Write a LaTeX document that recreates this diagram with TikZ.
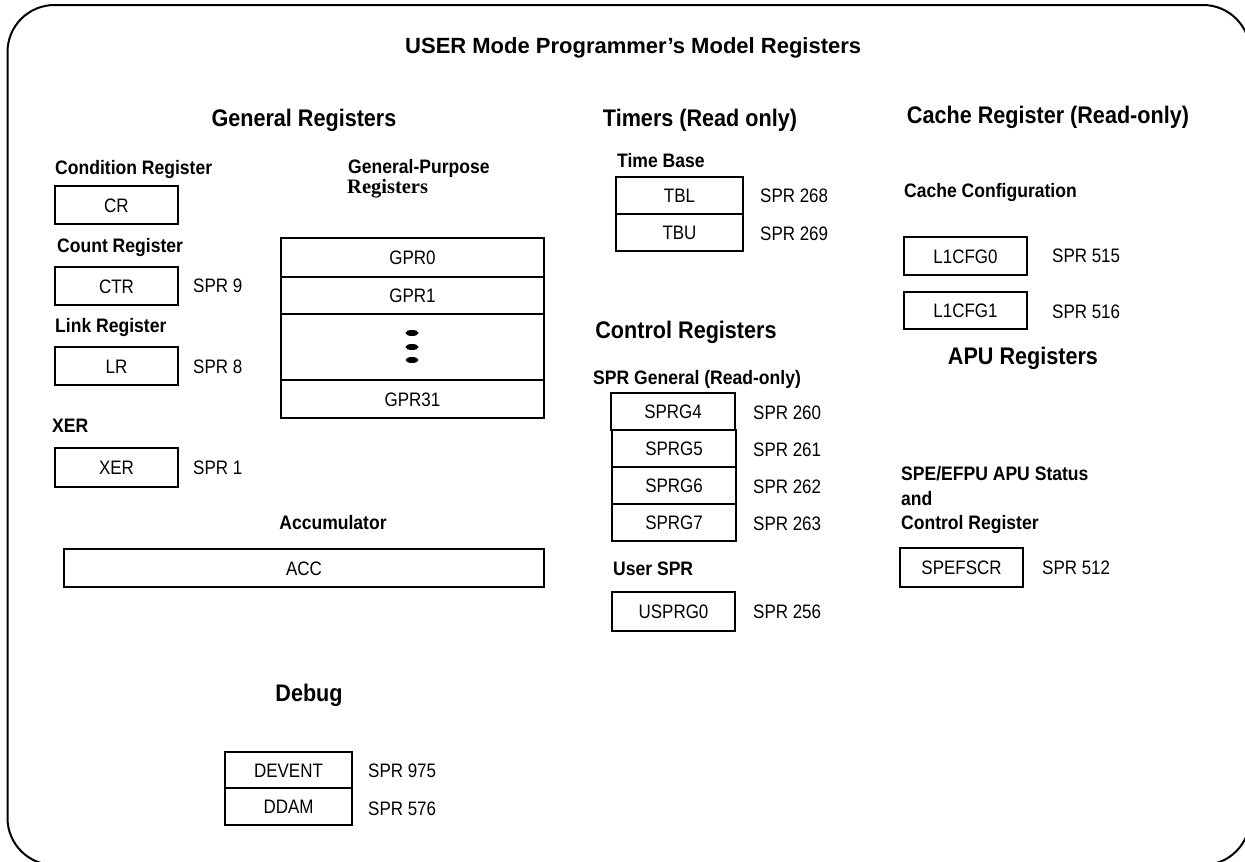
\documentclass[tikz,border=0pt]{standalone}
\usepackage{fontspec}
\setmainfont{Liberation Sans}
\newfontfamily\nar[FakeStretch=0.9]{Liberation Sans}
\newfontfamily\narr[FakeStretch=0.87]{Liberation Sans}
\newfontfamily\ser{Liberation Serif}
\newcommand\RegBox[6]{\node[reg, anchor=north west, minimum width={(#4-#2)*1pt}, minimum height={(#5-#3)*1pt}] (#1) at (#2,#3) {#6};}
\begin{document}
\begin{tikzpicture}[x=1pt,y=-1pt,
 lbl/.style={font=\nar\bfseries\fontsize{19.5}{22}\selectfont, inner sep=0pt, text height=14pt, text depth=0pt, anchor=west},
 hd/.style={font=\nar\bfseries\fontsize{24}{28}\selectfont, inner sep=0pt, text height=17pt, text depth=0pt},
 spr/.style={font=\narr\fontsize{19.5}{22}\selectfont, inner sep=0pt, text height=14pt, text depth=0pt, anchor=west},
 reg/.style={draw, line width=1.3pt, font=\narr\fontsize{19.5}{22}\selectfont, text height=14pt, text depth=0pt, inner sep=0pt, outer sep=0pt}
]
\useasboundingbox (0,0) rectangle (1245,862);
\clip (0,0) rectangle (1245,862);
\draw[line width=2pt, rounded corners=47pt] (7.5,5) rectangle (1250,865);

% title and headings
\node[font=\bfseries\fontsize{22}{26}\selectfont, inner sep=0pt, text height=15.7pt, text depth=0pt, anchor=west] (title) at (405,46) {USER Mode Programmer’s Model Registers};
\node[hd] (hgen) at (304,118) {General Registers};
\node[hd] (htim) at (700,118) {Timers (Read only)};
\node[hd] (hcache) at (1048,115) {Cache Register (Read-only)};
\node[hd] (hctl) at (686,330) {Control Registers};
\node[hd] (hapu) at (1023,356) {APU Registers};
\node[hd] (hdbg) at (309,693) {Debug};

% left column
\node[lbl] (lcr) at (55,167) {Condition Register};
\RegBox{cr}{55}{186}{178}{224}{CR}
\node[lbl] (lctr) at (57,245) {Count Register};
\RegBox{ctr}{55}{267}{178}{305}{CTR}
\node[spr] (sctr) at (193,285) {SPR 9};
\node[lbl] (llr) at (55,325) {Link Register};
\RegBox{lr}{55}{347}{178}{385}{LR}
\node[spr] (slr) at (193,366) {SPR 8};
\node[lbl] (lxer) at (52,425) {XER};
\RegBox{xer}{55}{448}{178}{487}{XER}
\node[spr] (sxer) at (193,467) {SPR 1};

% GPRs
\node[lbl] (lgpr) at (348,166) {General-Purpose};
\node[font=\ser\bfseries\fontsize{20.5}{24}\selectfont, inner sep=0pt, text height=13.6pt, text depth=0pt, anchor=west] (lgpr2) at (347,187) {Registers};
\RegBox{gpr0}{281}{238}{544}{277}{GPR0}
\RegBox{gpr1}{281}{277}{544}{314}{GPR1}
\RegBox{gprx}{281}{314}{544}{380}{}
\RegBox{gpr31}{281}{380}{544}{418}{GPR31}
\fill (412,333) ellipse (6.5 and 3);
\fill (412,347) ellipse (6.5 and 3);
\fill (412,360) ellipse (6.5 and 3);

% accumulator
\node[lbl, anchor=center] (lacc) at (333,522) {Accumulator};
\RegBox{acc}{64}{549}{544}{587}{ACC}

% timers
\node[lbl] (ltb) at (617,160) {Time Base};
\RegBox{tbl}{616}{177}{743}{214}{TBL}
\RegBox{tbu}{616}{214}{743}{251}{TBU}
\node[spr] (stbl) at (760,195) {SPR 268};
\node[spr] (stbu) at (760,233) {SPR 269};

% control registers
\node[lbl] (lsprg) at (593,377) {SPR General (Read-only)};
\RegBox{sprg4}{611}{393}{735}{430}{SPRG4}
\RegBox{sprg5}{612}{430}{736}{467}{SPRG5}
\RegBox{sprg6}{612}{467}{736}{504}{SPRG6}
\RegBox{sprg7}{612}{504}{736}{541}{SPRG7}
\node[spr] (s260) at (753,412) {SPR 260};
\node[spr] (s261) at (753,449) {SPR 261};
\node[spr] (s262) at (753,486) {SPR 262};
\node[spr] (s263) at (753,523) {SPR 263};
\node[lbl] (lusr) at (613,568) {User SPR};
\RegBox{usprg}{612}{592}{735}{631}{USPRG0}
\node[spr] (s256) at (753,611) {SPR 256};

% cache
\node[lbl] (lcc) at (904,190) {Cache Configuration};
\RegBox{l1a}{904}{237}{1027}{275}{L1CFG0}
\RegBox{l1b}{904}{292}{1027}{329}{L1CFG1}
\node[spr] (s515) at (1052,255) {SPR 515};
\node[spr] (s516) at (1052,311) {SPR 516};

% APU
\node[lbl] (lspe1) at (901,473) {SPE/EFPU APU Status};
\node[lbl] (lspe2) at (901,498) {and};
\node[lbl] (lspe3) at (901,522) {Control Register};
\RegBox{spef}{900}{548}{1023}{587}{SPEFSCR}
\node[spr] (s512) at (1042,567) {SPR 512};

% debug
\RegBox{devent}{225}{752}{352}{788}{DEVENT}
\RegBox{ddam}{225}{788}{352}{825}{DDAM}
\node[spr] (s975) at (368,770) {SPR 975};
\node[spr] (s576) at (368,808) {SPR 576};
\end{tikzpicture}
\end{document}
